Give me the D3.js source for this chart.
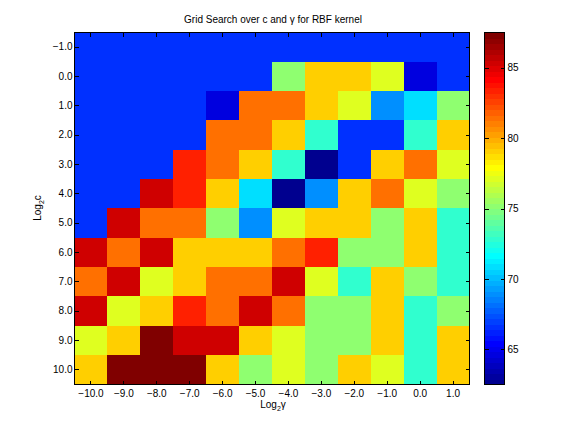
<!DOCTYPE html>
<html>
<head>
<meta charset="utf-8">
<script src="https://cdn.jsdelivr.net/npm/d3@7"></script>
<style>
  html, body { margin: 0; padding: 0; background: #fff; }
  text { font-family: "Liberation Sans", sans-serif; fill: #000; }
</style>
</head>
<body>
<div id="chart"></div>
<script>
const gammaTicks = [-10, -9, -8, -7, -6, -5, -4, -3, -2, -1, 0, 1];
const cTicks = [-1, 0, 1, 2, 3, 4, 5, 6, 7, 8, 9, 10];
const colorbarTicks = [65, 70, 75, 80, 85];
const colorRange = [62.5, 87.5];

// cross validation accuracy, one row per log2(c)
const accuracy = [
  [66.67, 66.67, 66.67, 66.67, 66.67, 66.67, 66.67, 66.67, 66.67, 66.67, 66.67, 66.67],
  [66.67, 66.67, 66.67, 66.67, 66.67, 66.67, 75.00, 79.17, 79.17, 77.08, 64.58, 66.67],
  [66.67, 66.67, 66.67, 66.67, 64.58, 81.25, 81.25, 79.17, 77.08, 68.75, 70.83, 75.00],
  [66.67, 66.67, 66.67, 66.67, 81.25, 81.25, 79.17, 72.92, 66.67, 66.67, 72.92, 79.17],
  [66.67, 66.67, 66.67, 83.33, 81.25, 79.17, 72.92, 62.50, 66.67, 79.17, 81.25, 77.08],
  [66.67, 66.67, 85.42, 83.33, 79.17, 70.83, 62.50, 68.75, 79.17, 81.25, 77.08, 75.00],
  [66.67, 85.42, 81.25, 81.25, 75.00, 68.75, 77.08, 79.17, 79.17, 75.00, 79.17, 72.92],
  [85.42, 81.25, 85.42, 79.17, 79.17, 79.17, 81.25, 83.33, 75.00, 75.00, 79.17, 72.92],
  [81.25, 85.42, 77.08, 79.17, 81.25, 81.25, 85.42, 77.08, 72.92, 79.17, 75.00, 72.92],
  [85.42, 77.08, 79.17, 83.33, 81.25, 85.42, 81.25, 75.00, 75.00, 79.17, 72.92, 75.00],
  [77.08, 79.17, 87.50, 85.42, 85.42, 79.17, 77.08, 75.00, 75.00, 79.17, 72.92, 79.17],
  [79.17, 87.50, 87.50, 87.50, 79.17, 75.00, 77.08, 75.00, 79.17, 77.08, 72.92, 79.17]
];

// same table matlab's jet(64) gives
function jet64() {
  const m = 64, n = 16;
  const u = [];
  for (let i = 1; i <= n; i++) u.push(i / n);
  for (let i = 1; i < n; i++) u.push(1);
  for (let i = n; i >= 1; i--) u.push(i / n);
  const rgb = d3.range(m).map(() => [0, 0, 0]);
  u.forEach((v, i) => {
    const g = 8 + i;       // zero based
    const r = g + n;
    const b = g - n;
    if (r < m) rgb[r][0] = v;
    rgb[g][1] = v;
    if (b >= 0) rgb[b][2] = v;
  });
  return rgb.map(c => d3.rgb(c[0] * 255, c[1] * 255, c[2] * 255).formatHex());
}

const jet = jet64();
const color = d3.scaleQuantize().domain(colorRange).range(jet);

const width = 576, height = 432;
const plotLeft = 74.5, plotRight = 469.5, plotTop = 32.5, plotBottom = 384.5;
const barLeft = 484.5, barRight = 504.5;
const fontSize = 10;

const svg = d3.select('#chart').append('svg')
  .attr('width', width)
  .attr('height', height)
  .style('display', 'block');

const x = d3.scaleBand().domain(gammaTicks).range([plotLeft, plotRight]);
const y = d3.scaleBand().domain(cTicks).range([plotTop, plotBottom]);

// Heat map cells. Edges are snapped to whole pixels, the small offset stops
// two neighbours rounding a .5 edge in different directions (white seams)
const snap = v => Math.round(v - 0.01);
const cells = accuracy.flatMap((row, r) => row.map((value, c) => ({ value, gamma: gammaTicks[c], c: cTicks[r] })));

svg.append('g')
  .selectAll('rect')
  .data(cells)
  .join('rect')
  .attr('x', d => snap(x(d.gamma)))
  .attr('y', d => snap(y(d.c)))
  .attr('width', d => snap(x(d.gamma) + x.bandwidth()) - snap(x(d.gamma)))
  .attr('height', d => snap(y(d.c) + y.bandwidth()) - snap(y(d.c)))
  .attr('fill', d => color(d.value))
  .attr('shape-rendering', 'crispEdges');

const fmt = d3.format('.1f');
const tickLen = 4;

function styleAxis(g) {
  g.select('.domain').remove();
  g.selectAll('line').attr('stroke', '#000').attr('shape-rendering', 'crispEdges');
  g.selectAll('text').style('font-size', fontSize + 'px');
}

svg.append('g')
  .attr('transform', `translate(0,${plotBottom})`)
  .call(d3.axisBottom(x).tickFormat(fmt).tickSizeInner(-tickLen).tickPadding(5))
  .call(styleAxis);

svg.append('g')
  .attr('transform', `translate(0,${plotTop})`)
  .call(d3.axisTop(x).tickFormat('').tickSizeInner(-tickLen))
  .call(styleAxis);

svg.append('g')
  .attr('transform', `translate(${plotLeft},0)`)
  .call(d3.axisLeft(y).tickFormat(fmt).tickSizeInner(-tickLen).tickPadding(2))
  .call(styleAxis);

svg.append('g')
  .attr('transform', `translate(${plotRight},0)`)
  .call(d3.axisRight(y).tickFormat('').tickSizeInner(-tickLen))
  .call(styleAxis);

svg.append('rect')
  .attr('x', plotLeft).attr('y', plotTop)
  .attr('width', plotRight - plotLeft).attr('height', plotBottom - plotTop)
  .attr('fill', 'none').attr('stroke', '#000')
  .attr('shape-rendering', 'crispEdges');

// Colorbar
const barY = d3.scaleLinear().domain(colorRange).range([plotBottom, plotTop]);
const barStep = (colorRange[1] - colorRange[0]) / jet.length;

svg.append('g')
  .selectAll('rect')
  .data(jet)
  .join('rect')
  .attr('x', barLeft)
  .attr('width', barRight - barLeft)
  .attr('y', (d, i) => barY(colorRange[0] + (i + 1) * barStep))
  .attr('height', (d, i) => barY(colorRange[0] + i * barStep) - barY(colorRange[0] + (i + 1) * barStep) + 0.5)
  .attr('fill', d => d)
  .attr('shape-rendering', 'crispEdges');

svg.append('g')
  .attr('transform', `translate(${barRight},0)`)
  .call(d3.axisRight(barY).tickValues(colorbarTicks).tickFormat(d3.format('d')).tickSizeInner(-tickLen).tickPadding(3))
  .call(styleAxis);

svg.append('g')
  .attr('transform', `translate(${barLeft},0)`)
  .call(d3.axisLeft(barY).tickValues(colorbarTicks).tickFormat('').tickSizeInner(-tickLen))
  .call(styleAxis);

svg.append('rect')
  .attr('x', barLeft).attr('y', plotTop)
  .attr('width', barRight - barLeft).attr('height', plotBottom - plotTop)
  .attr('fill', 'none').attr('stroke', '#000')
  .attr('shape-rendering', 'crispEdges');

// Title and axis labels
svg.append('text')
  .attr('x', 273)
  .attr('y', 23)
  .attr('text-anchor', 'middle')
  .style('font-size', fontSize + 'px')
  .text('Grid Search over c and γ for RBF kernel');

const xLabel = svg.append('text')
  .attr('x', 273)
  .attr('y', 408)
  .attr('text-anchor', 'middle')
  .style('font-size', fontSize + 'px');
xLabel.append('tspan').text('Log');
xLabel.append('tspan').attr('dy', 3).style('font-size', '7px').text('2');
xLabel.append('tspan').attr('dy', -3).text('γ');

const yLabel = svg.append('text')
  .attr('transform', 'translate(41,208) rotate(-90)')
  .attr('text-anchor', 'middle')
  .style('font-size', fontSize + 'px');
yLabel.append('tspan').text('Log');
yLabel.append('tspan').attr('dy', 3).style('font-size', '7px').text('2');
yLabel.append('tspan').attr('dy', -3).text('c');
</script>
</body>
</html>
